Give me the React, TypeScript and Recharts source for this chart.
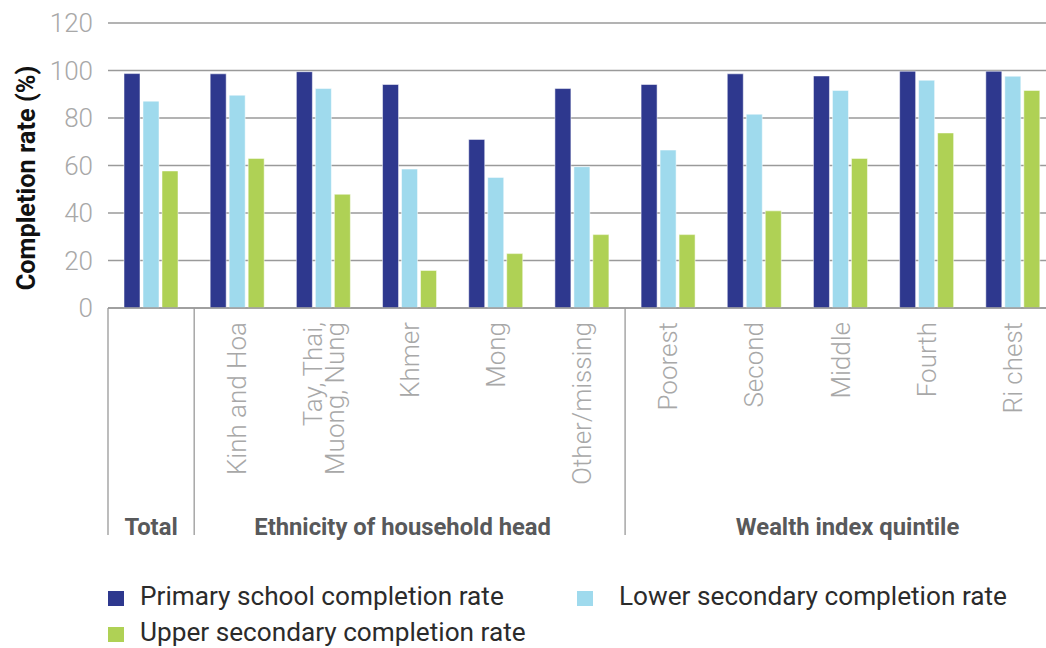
import React from 'react';
import { BarChart, Bar, XAxis, YAxis, CartesianGrid } from 'recharts';

const categories = [
  'Total',
  'Kinh and Hoa',
  'Tay, Thai,\nMuong, Nung',
  'Khmer',
  'Mong',
  'Other/missing',
  'Poorest',
  'Second',
  'Middle',
  'Fourth',
  'Ri chest',
];

const primaryRate = [98.7, 98.6, 99.5, 94.1, 71, 92.4, 94.1, 98.6, 97.7, 99.7, 99.7];
const lowerSecondaryRate = [87.1, 89.6, 92.4, 58.5, 55, 59.5, 66.5, 81.6, 91.6, 95.9, 97.6];
const upperSecondaryRate = [57.7, 63, 47.9, 15.8, 22.9, 30.9, 30.9, 40.9, 63, 73.7, 91.6];

const yTicks = [0, 20, 40, 60, 80, 100, 120];

const seriesKeys = ['primary', 'lower', 'upper'];
const seriesNames = [
  'Primary school completion rate',
  'Lower secondary completion rate',
  'Upper secondary completion rate',
];
const seriesColors = ['#2e388e', '#9fdaed', '#afd155'];

const groups = [
  { label: 'Total', from: 0, to: 0, dx: 0, showTicks: false },
  { label: 'Ethnicity of household head', from: 1, to: 5, dx: -7, showTicks: true },
  { label: 'Wealth index quintile', from: 6, to: 10, dx: 7, showTicks: true },
];

const yAxisTitle = 'Completion rate (%)';

const data = categories.map((name, i) => ({
  name,
  primary: primaryRate[i],
  lower: lowerSecondaryRate[i],
  upper: upperSecondaryRate[i],
}));

const FONT = 'Roboto, "Noto Sans", sans-serif';

const CategoryTick = (props: any) => {
  const { x, y, payload, index } = props;
  const half = payload && payload.offset ? payload.offset : 43.1;
  const lines = String(payload.value).split('\n');
  const fs = 26;
  const lh = 22;
  const ty = y + 14;
  const group = groups.find((g) => g.from === index);
  const owner = groups.find((g) => index >= g.from && index <= g.to);
  const showLabel = owner ? owner.showTicks : true;
  const left = x - half;
  return (
    <g>
      {showLabel && (
        <text
          transform={`rotate(-90, ${x}, ${ty})`}
          x={x}
          y={ty}
          textAnchor="end"
          fontSize={fs}
          fontWeight={300}
          fill="#a8a8a8"
          fontFamily={FONT}
        >
          {lines.map((l, i) => (
            <tspan key={i} x={x} dy={i === 0 ? 0.35 * fs - ((lines.length - 1) * lh) / 2 : lh}>
              {l}
            </tspan>
          ))}
        </text>
      )}
      {group && (
        <g>
          <line x1={left} x2={left} y1={y} y2={y + 227} stroke="#999" strokeWidth={1.3} />
          <text
            x={left + (group.to - group.from + 1) * half + group.dx}
            y={y + 227}
            textAnchor="middle"
            fontSize={23.8}
            fontWeight={700}
            fill="#58595b"
            fontFamily={FONT}
          >
            {group.label}
          </text>
        </g>
      )}
    </g>
  );
};

const YTitle = () => (
  <text
    transform="rotate(-90, 26, 178)"
    x={26}
    y={178}
    textAnchor="middle"
    dominantBaseline="central"
    fontSize={25.3}
    fontWeight={700}
    fill="#111"
    fontFamily={FONT}
  >
    {yAxisTitle}
  </text>
);

const legendPos = [
  { x: 108, baseline: 605, textX: 140 },
  { x: 577, baseline: 605, textX: 619 },
  { x: 108, baseline: 641, textX: 140 },
];

export default function App() {
  return (
    <div
      style={{
        position: 'absolute',
        left: 0,
        top: 0,
        width: 1046,
        height: 648,
        overflow: 'hidden',
        background: '#fff',
        fontFamily: FONT,
      }}
    >
      <BarChart
        width={1056}
        height={648}
        data={data}
        margin={{ top: 23, right: 0, bottom: 120, left: 0 }}
        barSize={16}
        barGap={3}
      >
        <CartesianGrid vertical={false} stroke="#9a9a9a" strokeWidth={1.3} />
        <XAxis
          dataKey="name"
          height={220}
          interval={0}
          tickLine={false}
          tickSize={0}
          tickMargin={0}
          axisLine={{ stroke: '#9a9a9a', strokeWidth: 1.3 }}
          tick={<CategoryTick />}
        />
        <YAxis
          width={108}
          domain={[0, 120]}
          ticks={yTicks}
          axisLine={false}
          tickLine={false}
          tickMargin={9}
          tick={{ fontSize: 26, fontWeight: 300, fill: '#a8a8a8', fontFamily: FONT }}
          label={<YTitle />}
        />
        {seriesKeys.map((k, i) => (
          <Bar
            key={k}
            dataKey={k}
            name={seriesNames[i]}
            fill={seriesColors[i]}
            stroke="rgba(255,255,255,0.5)"
            strokeWidth={1}
            isAnimationActive={false}
          />
        ))}
      </BarChart>
      <svg
        width={1046}
        height={648}
        style={{ position: 'absolute', left: 0, top: 0, pointerEvents: 'none' }}
      >
        {seriesNames.map((n, i) => (
          <g key={n}>
            <rect x={legendPos[i].x} y={legendPos[i].baseline - 14} width={16} height={15} fill={seriesColors[i]} />
            <text
              x={legendPos[i].textX}
              y={legendPos[i].baseline}
              fontSize={26.2}
              fontWeight={400}
              fill="#2b2b2b"
              fontFamily={FONT}
            >
              {n}
            </text>
          </g>
        ))}
      </svg>
    </div>
  );
}
